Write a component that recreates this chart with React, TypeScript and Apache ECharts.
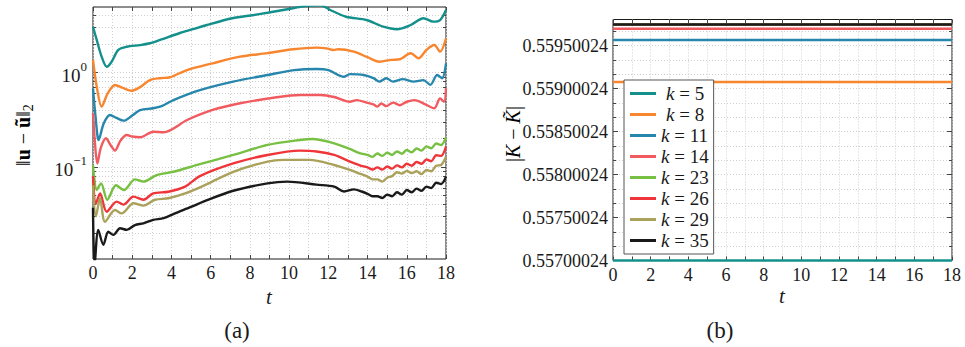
import React, { useEffect, useRef } from 'react';
import * as echarts from 'echarts';

// ---- data -------------------------------------------------------------
const kValues = [5, 8, 11, 14, 23, 26, 29, 35];
const seriesColors = ['#13908c', '#f7862f', '#2686ac', '#f15b60', '#77c043', '#ef3539', '#aaa15a', '#1a1a1a'];

// ||u - ũ||_2 versus t, one [t, error] list per k
const errK5: [number, number][] = [[0, 3.05], [0.19, 2.21], [0.44, 1.47], [0.7, 1.15], [0.95, 1.3], [1.29, 1.73], [1.72, 1.87], [2.4, 1.95], [2.9, 2.04], [3.42, 2.21], [4.4, 2.6], [5.1, 2.87], [5.8, 3.18], [7.1, 3.75], [8.2, 4.06], [8.9, 4.29], [10.2, 4.78], [10.8, 5.05], [11.6, 5.15], [12.1, 4.58], [12.9, 3.89], [13.95, 3.59], [14.8, 3.05], [15.5, 2.87], [16.2, 3.18], [16.85, 3.75], [17.35, 3.45], [17.7, 3.59], [18, 4.58]];
const errK8: [number, number][] = [[0, 1.36], [0.19, 0.71], [0.44, 0.435], [0.75, 0.6], [1.12, 0.737], [1.5, 0.69], [1.97, 0.64], [2.4, 0.7], [2.9, 0.83], [3.4, 0.87], [3.93, 0.89], [4.8, 1.06], [6.1, 1.25], [7.5, 1.47], [8.9, 1.6], [10.2, 1.76], [11.4, 1.83], [11.9, 1.8], [12.25, 1.73], [12.5, 1.76], [13.3, 1.66], [14, 1.45], [14.6, 1.3], [15.2, 1.36], [15.65, 1.38], [16.2, 1.6], [16.6, 1.41], [17, 1.73], [17.4, 1.95], [17.7, 1.66], [18, 2.3]];
const errK11: [number, number][] = [[0, 0.68], [0.13, 0.34], [0.29, 0.193], [0.55, 0.29], [0.87, 0.355], [1.2, 0.33], [1.57, 0.309], [2, 0.35], [2.4, 0.4], [3.07, 0.418], [3.5, 0.44], [4.1, 0.51], [5.45, 0.65], [7.15, 0.8], [8.9, 0.94], [10.25, 1.06], [11.4, 1.09], [12, 1.06], [12.8, 0.9], [13.1, 0.96], [13.8, 0.94], [14.3, 0.87], [14.6, 0.8], [14.95, 0.87], [15.3, 0.8], [15.8, 0.85], [16.35, 0.8], [16.85, 0.83], [17.2, 0.74], [17.55, 0.94], [17.8, 0.87], [18, 1.25]];
const errK14: [number, number][] = [[0, 0.37], [0.1, 0.18], [0.22, 0.109], [0.4, 0.16], [0.66, 0.201], [0.9, 0.17], [1.12, 0.149], [1.4, 0.19], [1.72, 0.218], [2, 0.21], [2.4, 0.206], [3.07, 0.236], [3.6, 0.233], [4.8, 0.314], [6.1, 0.401], [7.5, 0.472], [9.2, 0.54], [10.55, 0.578], [11.6, 0.578], [12.3, 0.55], [13.1, 0.49], [13.45, 0.51], [13.95, 0.48], [14.3, 0.46], [14.5, 0.435], [14.7, 0.47], [14.95, 0.44], [15.3, 0.48], [15.65, 0.45], [16, 0.49], [16.4, 0.51], [16.95, 0.46], [17.4, 0.418], [17.7, 0.53], [17.9, 0.49], [18, 0.68]];
const errK23: [number, number][] = [[0, 0.105], [0.19, 0.057], [0.41, 0.067], [0.73, 0.045], [1.17, 0.064], [1.58, 0.057], [2.14, 0.074], [2.57, 0.07], [3.25, 0.082], [4.1, 0.089], [5.45, 0.107], [7.15, 0.134], [8.9, 0.171], [10.55, 0.193], [11.2, 0.198], [12.3, 0.178], [13.1, 0.155], [13.6, 0.14], [14, 0.134], [14.25, 0.128], [14.5, 0.139], [14.75, 0.131], [15, 0.142], [15.25, 0.134], [15.5, 0.146], [15.75, 0.138], [16, 0.151], [16.25, 0.143], [16.5, 0.157], [16.75, 0.149], [17, 0.165], [17.25, 0.158], [17.5, 0.177], [17.75, 0.171], [18, 0.205]];
const errK26: [number, number][] = [[0, 0.08], [0.15, 0.041], [0.36, 0.0525], [0.7, 0.0336], [1.21, 0.043], [1.55, 0.04], [2.06, 0.0485], [2.57, 0.045], [3.07, 0.0525], [3.84, 0.0547], [4.7, 0.062], [5.45, 0.08], [7.15, 0.109], [8.9, 0.134], [10.55, 0.149], [11.4, 0.146], [12.3, 0.134], [13.1, 0.114], [13.6, 0.104], [14, 0.099], [14.25, 0.094], [14.5, 0.099], [14.75, 0.094], [15, 0.101], [15.25, 0.096], [15.5, 0.104], [15.75, 0.099], [16, 0.108], [16.25, 0.103], [16.5, 0.113], [16.75, 0.108], [17, 0.12], [17.25, 0.115], [17.5, 0.133], [17.75, 0.131], [18, 0.164]];
const errK29: [number, number][] = [[0, 0.064], [0.15, 0.03], [0.36, 0.0467], [0.61, 0.0263], [1.12, 0.035], [1.46, 0.0323], [2.06, 0.0413], [2.57, 0.039], [3.16, 0.045], [3.85, 0.0467], [4.7, 0.0525], [5.54, 0.062], [7.15, 0.089], [8.9, 0.114], [9.7, 0.119], [11.05, 0.119], [12.3, 0.105], [13.1, 0.093], [13.6, 0.085], [14, 0.079], [14.25, 0.074], [14.5, 0.074], [14.75, 0.07], [15, 0.077], [15.25, 0.08], [15.5, 0.088], [15.75, 0.085], [16, 0.091], [16.25, 0.086], [16.5, 0.09], [16.75, 0.084], [17, 0.093], [17.25, 0.09], [17.5, 0.103], [17.75, 0.105], [18, 0.128]];
const errK35: [number, number][] = [[0, 0.037], [0.08, 0.009], [0.27, 0.0216], [0.53, 0.015], [0.78, 0.0206], [1.04, 0.0191], [1.38, 0.0225], [1.72, 0.0216], [2.14, 0.0243], [2.57, 0.0253], [3.07, 0.0276], [3.6, 0.0287], [4.18, 0.0323], [5.03, 0.038], [5.63, 0.043], [7.15, 0.056], [8.9, 0.067], [9.9, 0.07], [11.4, 0.065], [12.3, 0.062], [12.8, 0.055], [13.3, 0.058], [13.7, 0.055], [14, 0.052], [14.25, 0.049], [14.5, 0.049], [14.75, 0.047], [15, 0.051], [15.25, 0.049], [15.5, 0.054], [15.75, 0.051], [16, 0.057], [16.25, 0.054], [16.5, 0.059], [16.75, 0.056], [17, 0.062], [17.25, 0.06], [17.5, 0.068], [17.75, 0.066], [18, 0.079]];
const errByK = [errK5, errK8, errK11, errK14, errK23, errK26, errK29, errK35];

// |K - K̃| (constant in t) for each k
const kDiff = [0.55700024, 0.5590781, 0.5595665, 0.5596979, 0.5597467, 0.5597467, 0.5597467, 0.5597467];

// axis ticks
const tRange = [0, 18];
const tLabelTicks = [0, 2, 4, 6, 8, 10, 12, 14, 16, 18];
const errRange = [0.01062, 4.93];
const decadeTicks = [0.1, 1];
const decadeExponents = ['\u22121', '0'];
const kDiffRange = [0.55700024, 0.55980494];
const kDiffTicks = [0.55700024, 0.55750024, 0.55800024, 0.55850024, 0.55900024, 0.55950024];

// ---- styling helpers ---------------------------------------------------
const SERIF = 'Liberation Serif';
const FS = 18;
const CAP_FS = 23;
const INK = '#1a1a1a';
const GRIDLINE = { show: true, lineStyle: { color: '#cfcfcf', width: 1, type: [1, 2] as number[] } };

const seriesName = (k: number) => `k = ${k}`;

// ticks of a log axis at m·10^e
function logTickValues(lo: number, hi: number): number[] {
  const out: number[] = [];
  for (let e = Math.floor(Math.log10(lo)); e <= Math.ceil(Math.log10(hi)); e++) {
    for (let m = 1; m <= 9; m++) {
      const v = m * Math.pow(10, e);
      if (v >= lo && v <= hi) out.push(v);
    }
  }
  return out;
}

// linear ticks subdivided into thirds
function thirds(ticks: number[], hi: number): number[] {
  const step = ticks[1] - ticks[0];
  const out: number[] = [];
  for (const t of ticks) {
    for (let j = 0; j < 3; j++) {
      const v = t + (j * step) / 3;
      if (v <= hi) out.push(v);
    }
  }
  return out;
}

function buildOption(): echarts.EChartsOption {
  const tAxis = (gridIndex: number, position: 'bottom' | 'top') => ({
    type: 'value' as const,
    gridIndex,
    position,
    min: tRange[0],
    max: tRange[1],
    interval: 1,
    axisLine: { show: false },
    axisTick: { show: true, inside: true, length: 4, lineStyle: { color: '#444', width: 1 } },
    axisLabel: position === 'bottom'
      ? { show: true, customValues: tLabelTicks, margin: 5, color: INK, fontFamily: SERIF, fontSize: FS }
      : { show: false },
    splitLine: position === 'bottom' ? GRIDLINE : { show: false },
  });

  const errTickVals = logTickValues(errRange[0], errRange[1]);
  const errAxis = (position: 'left' | 'right', major: boolean) => ({
    type: 'log' as const,
    logBase: 10,
    gridIndex: 0,
    position,
    min: errRange[0],
    max: errRange[1],
    axisLine: { show: false },
    axisTick: {
      show: true,
      inside: true,
      length: major ? 5 : 3,
      customValues: major ? decadeTicks : errTickVals,
      lineStyle: { color: '#444', width: 1 },
    },
    axisLabel: position === 'left' && major
      ? {
          show: true,
          customValues: decadeTicks,
          margin: 6,
          color: INK,
          fontFamily: SERIF,
          formatter: (v: number) => {
            const i = decadeTicks.findIndex((d) => Math.abs(d - v) < 1e-9 * d + 1e-12);
            return `{b|10}{s|${decadeExponents[i < 0 ? 0 : i]}}`;
          },
          rich: {
            b: { fontFamily: SERIF, fontSize: 19, color: INK, verticalAlign: 'bottom', padding: [6, 0, 0, 0] },
            s: { fontFamily: SERIF, fontSize: 13, color: INK, verticalAlign: 'top' },
          },
        }
      : { show: false },
    splitLine: position === 'left' && !major ? GRIDLINE : { show: false },
  });

  const kTickVals = thirds(kDiffTicks, kDiffRange[1]);
  const kAxis = (position: 'left' | 'right', major: boolean) => ({
    type: 'value' as const,
    gridIndex: 1,
    position,
    min: kDiffRange[0],
    max: kDiffRange[1],
    axisLine: { show: false },
    axisTick: {
      show: true,
      inside: true,
      length: major ? 5 : 3,
      customValues: major ? kDiffTicks : kTickVals,
      lineStyle: { color: '#444', width: 1 },
    },
    axisLabel: position === 'left' && major
      ? {
          show: true,
          customValues: kDiffTicks,
          margin: 5,
          color: INK,
          fontFamily: SERIF,
          fontSize: FS,
          formatter: (v: number) => v.toFixed(8),
        }
      : { show: false },
    splitLine: position === 'left' && !major ? GRIDLINE : { show: false },
  });

  const errSeries = kValues.map((k, i) => ({
    type: 'line' as const,
    name: seriesName(k),
    xAxisIndex: 0,
    yAxisIndex: 0,
    data: errByK[i],
    showSymbol: false,
    smooth: 0.3,
    clip: true,
    color: seriesColors[i],
    lineStyle: { width: 2.4, color: seriesColors[i] },
    z: 3,
  }));

  const kSeries = kValues.map((k, i) => ({
    type: 'line' as const,
    name: seriesName(k),
    xAxisIndex: 2,
    yAxisIndex: 4,
    data: [[tRange[0], kDiff[i]], [tRange[1], kDiff[i]]],
    showSymbol: false,
    clip: false,
    color: seriesColors[i],
    lineStyle: { width: 2.4, color: seriesColors[i] },
    z: 3,
  }));

  const richMath = {
    n: { fontFamily: SERIF, fontSize: 20, color: INK, verticalAlign: 'top' as const },
    bf: { fontFamily: SERIF, fontSize: 20, fontWeight: 'bold' as const, color: INK, verticalAlign: 'top' as const },
    it: { fontFamily: SERIF, fontSize: 20, fontStyle: 'italic' as const, color: INK, verticalAlign: 'top' as const },
    sub: { fontFamily: SERIF, fontSize: 14, color: INK, verticalAlign: 'bottom' as const, padding: [9, 0, 0, 0] },
  };

  const plainText = (x: number, y: number, text: string, size: number, italic = false) => ({
    type: 'text' as const,
    x,
    y,
    style: {
      text,
      fontFamily: SERIF,
      fontSize: size,
      fontStyle: italic ? 'italic' : 'normal',
      fill: INK,
      align: 'center',
      verticalAlign: 'middle',
    },
  });

  return {
    animation: false,
    backgroundColor: '#ffffff',
    textStyle: { fontFamily: SERIF },
    grid: [
      { left: 93, top: 7, width: 353, height: 252, show: true, borderColor: INK, borderWidth: 1, backgroundColor: 'transparent' },
      { left: 613, top: 19.5, width: 339, height: 241, show: true, borderColor: INK, borderWidth: 1, backgroundColor: 'transparent' },
    ],
    xAxis: [tAxis(0, 'bottom'), tAxis(0, 'top'), tAxis(1, 'bottom'), tAxis(1, 'top')],
    yAxis: [
      errAxis('left', false), errAxis('left', true), errAxis('right', false), errAxis('right', true),
      kAxis('left', false), kAxis('left', true), kAxis('right', false), kAxis('right', true),
    ],
    legend: {
      show: true,
      data: kValues.map(seriesName),
      orient: 'vertical',
      left: 624,
      top: 80,
      padding: [3, 5, 3, 6],
      itemGap: 0,
      itemWidth: 26,
      itemHeight: 3,
      icon: 'rect',
      backgroundColor: '#ffffff',
      borderColor: '#555555',
      borderWidth: 1,
      borderRadius: 0,
      selectedMode: false,
      formatter: (name: string) => {
        const num = name.replace('k = ', '');
        const pad = num.length === 1 ? '{p| }' : '';
        return `${pad}{k|k}{n| = ${num}}`;
      },
      textStyle: {
        fontFamily: SERIF,
        fontSize: 19,
        color: INK,
        lineHeight: 21,
        rich: {
          p: { width: 5, fontSize: 19, lineHeight: 21 },
          k: { fontFamily: SERIF, fontSize: 19, fontStyle: 'italic', color: INK, lineHeight: 21 },
          n: { fontFamily: SERIF, fontSize: 19, color: INK, lineHeight: 21 },
        },
      },
    },
    graphic: [
      {
        type: 'text',
        x: 24,
        y: 135,
        rotation: Math.PI / 2,
        style: {
          text: '{n|\u2016}{bf|u}{n| \u2212 }{bf|\u0169}{n|\u2016}{sub|2}',
          align: 'center',
          verticalAlign: 'middle',
          rich: richMath,
        },
      },
      {
        type: 'text',
        x: 513,
        y: 134,
        rotation: Math.PI / 2,
        style: {
          text: '{n||}{it|K}{n| \u2212 }{it|K\u0303}{n||}',
          align: 'center',
          verticalAlign: 'middle',
          rich: richMath,
        },
      },
      plainText(269, 297, 't', 21, true),
      plainText(782, 296, 't', 21, true),
      plainText(237, 330, '(a)', CAP_FS),
      plainText(720, 330, '(b)', CAP_FS),
    ],
    series: [...errSeries, ...kSeries],
  } as echarts.EChartsOption;
}

export default function App() {
  const ref = useRef<HTMLDivElement>(null);
  useEffect(() => {
    if (!ref.current) return;
    const chart = echarts.init(ref.current, null, { renderer: 'svg' });
    chart.setOption(buildOption());
    return () => chart.dispose();
  }, []);
  return (
    <div
      ref={ref}
      style={{ position: 'absolute', left: 0, top: 0, width: 965, height: 347, background: '#ffffff' }}
    />
  );
}
